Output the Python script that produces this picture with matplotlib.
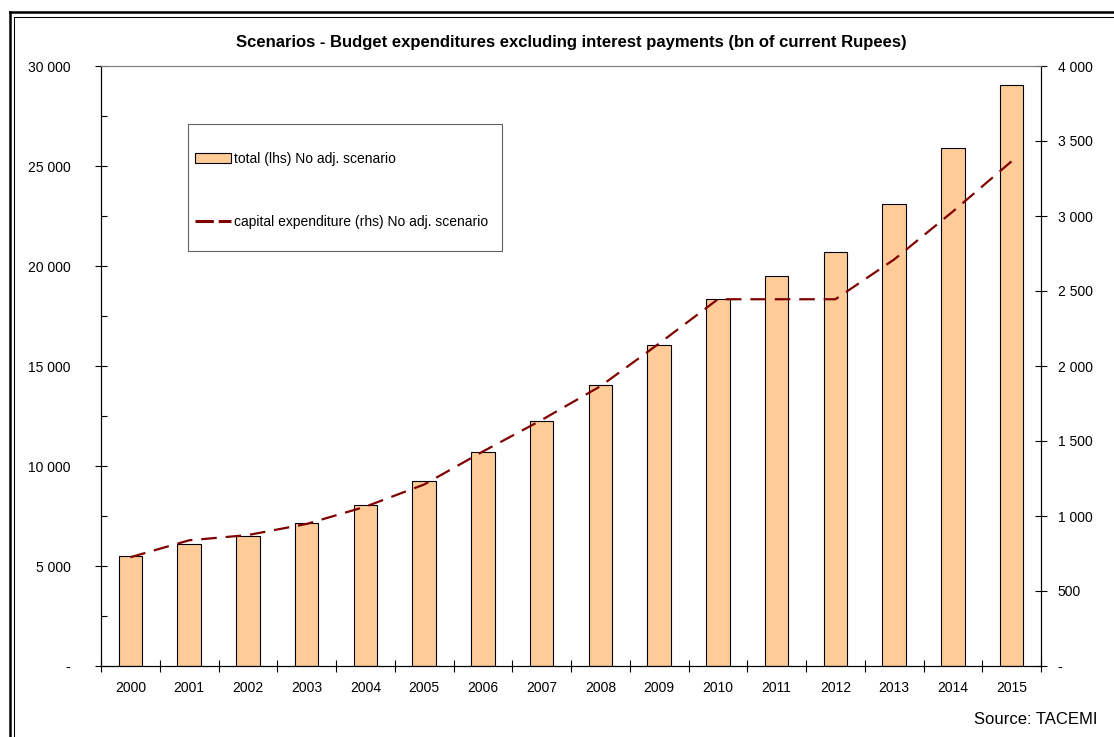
import numpy as np
import matplotlib
matplotlib.use("Agg")
import matplotlib.pyplot as plt
from matplotlib.ticker import FixedLocator, MultipleLocator, FuncFormatter
from matplotlib.lines import Line2D
from matplotlib.patches import Rectangle, Patch

plt.rcParams['font.family'] = ['Liberation Sans', 'DejaVu Sans']

years = [str(y) for y in range(2000, 2016)]
total_lhs = [5500, 6100, 6500, 7150, 8050, 9250, 10700, 12250,
             14070, 16050, 18330, 19500, 20680, 23100, 25900, 29050]
capex_rhs = [725, 838, 873, 947, 1062, 1210, 1430, 1640,
             1865, 2150, 2445, 2445, 2445, 2710, 3030, 3365]

title = "Scenarios - Budget expenditures excluding interest payments (bn of current Rupees)"
bar_label = "total (lhs) No adj. scenario"
line_label = "capital expenditure (rhs) No adj. scenario"
source = "Source: TACEMI"

W, H = 1114, 737
fig = plt.figure(figsize=(W / 100, H / 100), dpi=100)

def fx(px):
    return px / W

def fy(py):
    return 1 - py / H

ax = fig.add_axes([fx(101), fy(666), fx(1041) - fx(101), fy(66) - fy(666)])
ax2 = ax.twinx()

x = np.arange(len(years))
ax.bar(x, total_lhs, width=0.4, color='#FFCC99', edgecolor='black',
       linewidth=0.8, zorder=2)
ax2.plot(x, capex_rhs, color='#800000', lw=1.6, linestyle=(0, (7, 4)),
         zorder=3)

ax.set_xlim(-0.5, len(years) - 0.5)
ax.set_ylim(0, 30000)
ax2.set_ylim(0, 4000)

def thousands(v, pos):
    if v == 0:
        return '-'
    return f"{int(v):,}".replace(',', ' ')

ax.yaxis.set_major_locator(MultipleLocator(5000))
ax.yaxis.set_minor_locator(MultipleLocator(2500))
ax.yaxis.set_major_formatter(FuncFormatter(thousands))
ax2.yaxis.set_major_locator(MultipleLocator(500))
ax2.yaxis.set_major_formatter(FuncFormatter(thousands))

# ticks between categories, labels on the centres
ax.xaxis.set_major_locator(FixedLocator(np.arange(-0.5, len(years))))
ax.xaxis.set_major_formatter(FuncFormatter(lambda v, p: ''))
ax.xaxis.set_minor_locator(FixedLocator(x))
ax.set_xticklabels(years, minor=True)

ax.tick_params(axis='x', which='major', direction='inout', length=8, width=0.8)
ax.tick_params(axis='x', which='minor', length=0, pad=11, labelsize=10)
ax.tick_params(axis='y', which='major', direction='inout', length=8, width=0.8,
               pad=18, labelsize=10)
ax.tick_params(axis='y', which='minor', direction='in', length=4, width=0.8)
ax2.tick_params(axis='y', which='major', direction='inout', length=8, width=0.8,
                pad=8, labelsize=10)

for a in (ax, ax2):
    a.spines['top'].set_color('#808080')
    a.spines['top'].set_linewidth(0.8)
    a.spines['left'].set_linewidth(0.8)
    a.spines['right'].set_linewidth(0.8)
    a.spines['bottom'].set_linewidth(0.8)
    a.set_facecolor('none')

fig.text(fx(571), fy(43), title, ha='center', va='center',
         fontsize=12, fontweight='bold')
fig.text(fx(1097), fy(719), source, ha='right', va='center', fontsize=12)

# legend box
fig.patches.append(Rectangle((fx(188), fy(251)), fx(502) - fx(188),
                             fy(124) - fy(251), transform=fig.transFigure,
                             facecolor='white', edgecolor='#606060',
                             linewidth=0.8, zorder=5))
handles = [Patch(facecolor='#FFCC99', edgecolor='black', linewidth=0.8),
           Line2D([], [], color='#800000', lw=2.2, linestyle=(0, (6, 1.6)))]
fig.legend(handles, [bar_label, line_label], loc='upper left',
           bbox_to_anchor=(fx(195), fy(152)), frameon=False, fontsize=10,
           labelspacing=3.5, handlelength=2.6, handletextpad=0.2,
           borderpad=0, borderaxespad=0).set_zorder(6)

# double frame around the chart
lw_out, lw_in = 1.8, 0.75
fig.add_artist(Line2D([fx(9.5), 1.0], [fy(12), fy(12)], color='black', lw=lw_out))
fig.add_artist(Line2D([fx(9.5), fx(9.5)], [fy(12), 0.0], color='black', lw=lw_out))
fig.add_artist(Line2D([fx(14), 1.0], [fy(16.5), fy(16.5)], color='black', lw=lw_in))
fig.add_artist(Line2D([fx(14), fx(14)], [fy(16.5), 0.0], color='black', lw=lw_in))

fig.savefig("out.png", dpi=100)
